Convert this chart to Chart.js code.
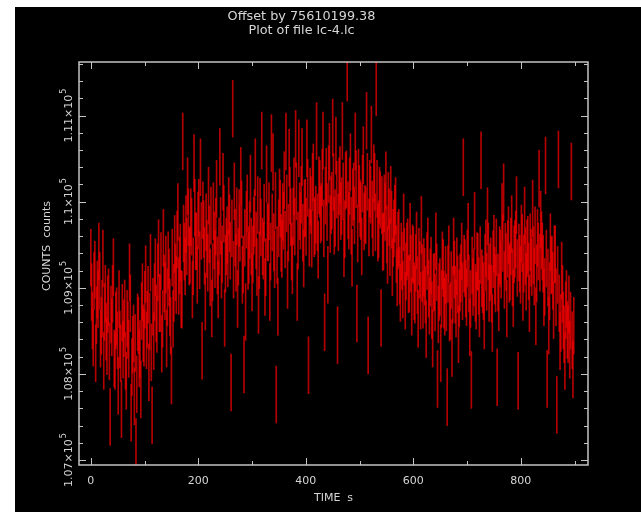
<!DOCTYPE html>
<html><head><meta charset="utf-8">
<script src="https://cdn.jsdelivr.net/npm/chart.js@4"></script>
<style>
html,body{margin:0;padding:0;background:#fff;width:641px;height:512px;overflow:hidden}
#wrap{position:absolute;left:15px;top:7px;width:626px;height:505px;background:#000}
canvas{display:block}
</style></head><body>
<div id="wrap"><canvas id="c" width="626" height="505"></canvas></div>
<script>
// ---- data ----
const titleLines = ['Offset by 75610199.38', 'Plot of file lc-4.lc'];
const xTitle = 'TIME  s';
const yTitle = 'COUNTS  counts';
const binStart = 0;      // s, first bin of the "counts" reading
const binStep = 3;       // s between readings in each array
const halfShift = 1.5;   // s, the "countsHalf" readings sit between them
const countErr = 330;    // half length of each error bar, counts
const xMin = -22, xMax = 925;
const yMin = 106942, yMax = 111622;
const xMajorTicks = [0, 200, 400, 600, 800];
const xMinorStep = 100;
const yMajorTicks = [107000, 108000, 109000, 110000, 111000];
const yTickMantissa = ['1.07', '1.08', '1.09', '1.1', '1.11'];
const yTickExponent = '5';
const yMinorStep = 200;
const counts = [
109350,108620,109080,108240,108980,109420,108410,108760,108150,108930,
108320,108890,107500,108540,109240,108150,108670,107860,108400,107590,
108280,108760,107920,108510,109180,107550,108340,107740,107150,108600,
108180,107820,108950,108420,109160,108630,108020,109290,107520,108380,
109240,108580,109460,108820,108350,109580,108960,108410,109320,108770,
107980,108640,109510,109030,109880,109260,108870,110700,109420,109740,
110180,109360,109820,108980,110450,109540,109150,109930,110400,108270,
109680,108840,109450,110070,109120,108760,109890,109330,110150,108980,
110520,109210,110230,108650,109480,109340,109750,107900,111080,110120,
109290,108870,109810,110300,109150,108110,108720,109980,109380,110210,
109060,109720,110400,109240,108800,109940,110710,109430,109010,110320,
109640,108950,110680,110460,109330,107760,108780,110050,109520,109880,
110250,110700,109090,110510,109820,109260,110180,110730,108950,110620,
109780,110520,109340,109930,110620,108100,110060,109570,110340,109720,
110820,109440,110150,109880,110710,108600,110290,109150,110580,109960,
110860,109720,110650,108450,110180,109890,110820,109460,110240,111500,
109780,110460,109350,110120,110700,108700,110280,109920,109480,110540,
109860,110940,108330,110150,110780,109700,110230,111330,109640,110070,
108650,109530,109980,110250,109380,109820,110080,109240,109690,109950,
109120,109580,108940,109310,109760,108850,109420,109040,109650,108780,
109380,108920,109550,108640,109210,109730,108860,109130,108520,109480,
108790,109260,108410,109070,109540,107940,108950,108240,109320,108860,
109150,107730,109390,108730,108300,109480,108920,109250,108460,109060,
109420,110400,109230,108890,109650,108540,107930,109010,109780,108850,
109300,108760,110480,109040,108620,109460,109830,108940,109250,108590,
109510,109050,107960,108830,109340,109880,110110,109420,108760,109610,
109190,109740,108880,109450,109960,107920,109280,109630,108950,109840,
109070,109500,108820,109350,109920,109130,108670,109580,110270,109790,
109420,108890,110420,107940,108560,109530,109270,108740,109390,107640,
110490,108380,109200,108620,108150,108870,108460,108280,110350,108050
];
const countsHalf = [
108950,108420,109210,108680,108870,109080,108560,109340,108720,108490,
108810,108260,108690,108930,108180,108620,108390,108870,108240,108710,
108530,108150,108640,108290,108820,108080,108470,108360,107880,108560,
108290,108730,108470,108860,108390,108920,108610,108250,108780,108950,
108700,109180,108820,109310,108640,109050,109270,108890,109120,108560,
109350,108940,109180,109560,109020,109410,108860,109630,109250,109480,
109820,109380,109710,109250,109930,109540,109780,109320,109660,109900,
109370,109760,109290,109620,109840,109180,109550,109710,109260,109480,
109720,109390,109860,109280,109610,109950,109430,109690,109210,109580,
109830,109360,109640,109910,109270,109580,109790,109310,109670,109480,
109390,109810,109550,109960,109320,109700,109480,109870,109240,109650,
109890,109420,109760,109530,110010,109380,109690,109920,109450,109780,
109560,109980,109640,110070,109420,109830,109710,110120,109550,109890,
110080,109640,109920,109710,110160,109580,109960,110230,109690,109850,
109760,110190,109850,110280,109690,110070,109880,110320,109740,110010,
110230,109810,110140,109760,110310,109950,110120,109680,110260,109900,
110180,109720,110050,109840,110260,109630,110090,109890,110210,109770,
109840,110230,109700,110080,109910,110330,109760,110150,109680,110020,
109960,109540,109880,109620,110010,109470,109790,109580,109860,109390,
109550,109140,109420,108980,109360,109190,109470,109050,109280,109400,
108960,109290,109030,109360,108850,109170,109240,108920,109310,108990,
109120,108740,109060,108830,109180,108690,109010,108870,109230,108780,
108830,109160,108710,109090,108920,109210,108760,109040,108880,109170,
108960,109280,108990,109340,109050,108870,109260,109120,108940,109310,
109020,109380,109110,108960,109290,109070,109420,109180,108930,109330,
109140,109470,109060,109380,109210,109520,109090,109300,109450,109160,
109480,109120,109390,109560,109230,109410,109150,109520,109280,109370,
109460,109190,109530,109240,109380,109610,109170,109420,109290,109550,
109280,109010,109340,109120,108960,109260,109080,109390,108890,109150,
108820,108590,108930,108460,108740,108510,108810,108620,108390,108560
];
const points = counts.map((v, i) => ({t: binStart + i * binStep, v}))
  .concat(countsHalf.map((v, i) => ({t: binStart + halfShift + i * binStep, v})));

const textColor = '#d6d6d6';
const fontFamily = 'DejaVu Sans';

const framePlugin = {
  id: 'frame',
  afterDatasetsDraw(chart) {
    const ctx = chart.ctx;
    const {left, right, top, bottom} = chart.chartArea;
    const xs = chart.scales.x, ys = chart.scales.y;
    ctx.save();
    ctx.strokeStyle = '#c4c4c4';
    ctx.lineWidth = 1.5;
    ctx.strokeRect(left, top, right - left, bottom - top);
    ctx.lineWidth = 1;
    ctx.beginPath();
    for (let v = 0; v <= xMax; v += xMinorStep) {
      const px = Math.round(xs.getPixelForValue(v)) + 0.5;
      const len = xMajorTicks.includes(v) ? 7 : 4;
      ctx.moveTo(px, bottom); ctx.lineTo(px, bottom - len);
      ctx.moveTo(px, top); ctx.lineTo(px, top + len);
    }
    for (let v = Math.ceil(yMin / yMinorStep) * yMinorStep; v <= yMax; v += yMinorStep) {
      const py = Math.round(ys.getPixelForValue(v)) + 0.5;
      const len = yMajorTicks.includes(v) ? 7 : 4;
      ctx.moveTo(left, py); ctx.lineTo(left + len, py);
      ctx.moveTo(right, py); ctx.lineTo(right - len, py);
    }
    ctx.stroke();
    // rotated y tick labels with superscript exponent
    ctx.fillStyle = textColor;
    ctx.textBaseline = 'middle';
    ctx.textAlign = 'left';
    yMajorTicks.forEach((v, i) => {
      const py = ys.getPixelForValue(v);
      const base = yTickMantissa[i] + '\u00d710';
      ctx.save();
      ctx.translate(left - 10, py);
      ctx.rotate(-Math.PI / 2);
      ctx.font = '11px "' + fontFamily + '"';
      const w1 = ctx.measureText(base).width;
      ctx.font = '8px "' + fontFamily + '"';
      const w2 = ctx.measureText(yTickExponent).width;
      const x0 = -(w1 + w2 + 1) / 2;
      ctx.font = '11px "' + fontFamily + '"';
      ctx.fillText(base, x0, 0);
      ctx.font = '8px "' + fontFamily + '"';
      ctx.fillText(yTickExponent, x0 + w1 + 1, -5);
      ctx.restore();
    });
    // y axis title
    ctx.save();
    ctx.translate(left - 32, top + 184);
    ctx.rotate(-Math.PI / 2);
    ctx.font = '11px "' + fontFamily + '"';
    ctx.textAlign = 'center';
    ctx.fillText(yTitle, 0, 0);
    ctx.restore();
    ctx.restore();
  }
};

new Chart(document.getElementById('c'), {
  type: 'bar',
  data: {
    datasets: [{
      data: points.map(p => ({x: p.t, y: [p.v - countErr, p.v + countErr]})),
      backgroundColor: 'rgba(250,0,0,0.72)',
      borderWidth: 0,
      barThickness: 1
    }]
  },
  options: {
    responsive: false,
    animation: false,
    devicePixelRatio: 1,
    layout: {padding: {left: 0, right: 53, top: 0, bottom: 0}},
    plugins: {
      legend: {display: false},
      tooltip: {enabled: false},
      title: {
        display: true, text: titleLines, color: textColor,
        font: {family: fontFamily, size: 12.8, weight: 'normal', lineHeight: '14px'},
        padding: {top: 3, bottom: 24}
      }
    },
    scales: {
      x: {
        type: 'linear', min: xMin, max: xMax, offset: false,
        grid: {display: false}, border: {display: false},
        ticks: {
          stepSize: xMinorStep, autoSkip: false, maxRotation: 0, minRotation: 0,
          includeBounds: false,
          color: textColor, font: {family: fontFamily, size: 11}, padding: 2,
          callback: (v) => xMajorTicks.includes(v) ? String(v) : ''
        },
        title: {display: true, text: xTitle, color: textColor,
          font: {family: fontFamily, size: 11, lineHeight: '14px'}, padding: {top: 0, bottom: 7}},
        afterFit: (s) => { s.height = 47; }
      },
      y: {
        min: yMin, max: yMax,
        grid: {display: false}, border: {display: false},
        ticks: {display: false},
        title: {display: false},
        afterFit: (s) => { s.width = 64; }
      }
    }
  },
  plugins: [framePlugin]
});
</script>
</body></html>
